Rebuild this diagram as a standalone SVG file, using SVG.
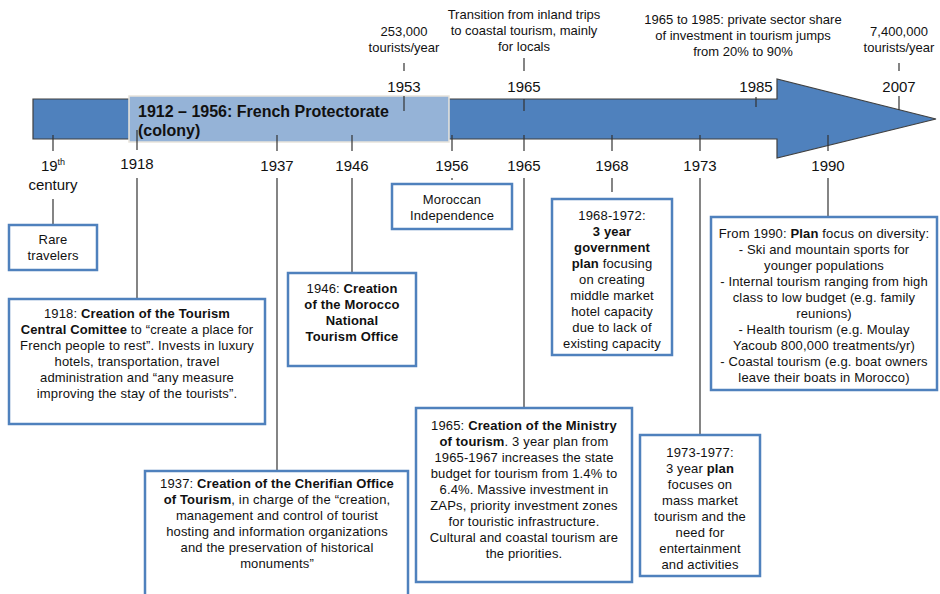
<svg xmlns="http://www.w3.org/2000/svg" width="940" height="594" viewBox="0 0 940 594">
<style>
.bx{fill:#fff;stroke:#4F81BD;stroke-width:2.5}
.ln{stroke:#333;stroke-width:1.2;fill:none}
.t{font-family:"Liberation Sans",Arial,sans-serif;font-size:13px;letter-spacing:0.15px;fill:#111;text-anchor:middle}
.y{font-family:"Liberation Sans",Arial,sans-serif;font-size:15px;fill:#111;text-anchor:middle}
.tp{font-family:"Liberation Sans",Arial,sans-serif;font-size:13px;fill:#111;text-anchor:middle}
.b{font-weight:bold}
</style>
<rect width="940" height="594" fill="#fff"/>
<g id="timeline">
<path d="M33,99 H777 V79 L936,119 L777,158 V139 H33 Z" fill="#4F81BD" stroke="#404040" stroke-width="1.2"/>
<rect x="129" y="96" width="320" height="46" fill="#95B3D7" stroke="#E8E4DC" stroke-width="1.5"/>
<text font-family="Liberation Sans,Arial,sans-serif" font-size="16px" font-weight="bold" fill="#111"><tspan x="138" y="117">1912 – 1956: French Protectorate</tspan><tspan x="138" y="136">(colony)</tspan></text>
</g>
<g id="connectors">
<line class="ln" x1="53" y1="135" x2="53" y2="151"/>
<line class="ln" x1="137" y1="130" x2="137" y2="150"/>
<line class="ln" x1="277" y1="135" x2="277" y2="151"/>
<line class="ln" x1="352" y1="135" x2="352" y2="151"/>
<line class="ln" x1="452" y1="135" x2="452" y2="151"/>
<line class="ln" x1="524" y1="135" x2="524" y2="151"/>
<line class="ln" x1="612" y1="135" x2="612" y2="151"/>
<line class="ln" x1="700" y1="135" x2="700" y2="151"/>
<line class="ln" x1="828" y1="135" x2="828" y2="151"/>
<line class="ln" x1="404" y1="63" x2="404" y2="71"/>
<line class="ln" x1="404" y1="96" x2="404" y2="111"/>
<line class="ln" x1="524" y1="58" x2="524" y2="71"/>
<line class="ln" x1="524" y1="99" x2="524" y2="111"/>
<line class="ln" x1="756" y1="97" x2="756" y2="107"/>
<line class="ln" x1="899" y1="63" x2="899" y2="71"/>
<line class="ln" x1="899" y1="96" x2="899" y2="110"/>
<line class="ln" x1="53" y1="199" x2="53" y2="224"/>
<line class="ln" x1="137" y1="178" x2="137" y2="298"/>
<line class="ln" x1="277" y1="178" x2="277" y2="470"/>
<line class="ln" x1="352" y1="178" x2="352" y2="272"/>
<line class="ln" x1="452" y1="178" x2="452" y2="180"/>
<line class="ln" x1="524" y1="178" x2="524" y2="407"/>
<line class="ln" x1="612" y1="178" x2="612" y2="192"/>
<line class="ln" x1="700" y1="178" x2="700" y2="434"/>
<line class="ln" x1="828" y1="178" x2="828" y2="216"/>
</g>
<g id="labels">
<text class="y" x="53" y="171">19<tspan font-size="9px" dy="-6">th</tspan></text>
<text class="y" x="53" y="190">century</text>
<text class="y" x="137" y="169">1918</text>
<text class="y" x="277" y="171">1937</text>
<text class="y" x="352" y="171">1946</text>
<text class="y" x="452" y="171">1956</text>
<text class="y" x="524" y="171">1965</text>
<text class="y" x="612" y="171">1968</text>
<text class="y" x="700" y="171">1973</text>
<text class="y" x="828" y="171">1990</text>
<text class="y" x="404" y="92">1953</text>
<text class="y" x="524" y="92">1965</text>
<text class="y" x="756" y="92">1985</text>
<text class="y" x="899" y="92">2007</text>
<text class="tp" x="404" y="36">253,000</text>
<text class="tp" x="404" y="52">tourists/year</text>
<text class="tp" x="524" y="19">Transition from inland trips</text>
<text class="tp" x="524" y="35">to coastal tourism, mainly</text>
<text class="tp" x="524" y="51">for locals</text>
<text class="tp" x="743" y="24">1965 to 1985: private sector share</text>
<text class="tp" x="743" y="40">of investment in tourism jumps</text>
<text class="tp" x="743" y="56">from 20% to 90%</text>
<text class="tp" x="899" y="36">7,400,000</text>
<text class="tp" x="899" y="52">tourists/year</text>
</g>
<g id="n-rare">
<rect class="bx" x="9" y="225" width="88" height="45"/>
<text class="t" x="53" y="244">Rare</text>
<text class="t" x="53" y="260">travelers</text>
</g>
<g id="n-1918">
<rect class="bx" x="9" y="299" width="256" height="125"/>
<text class="t"><tspan x="137" y="318">1918: <tspan class="b">Creation of the Tourism</tspan></tspan><tspan x="137" y="334"><tspan class="b">Central Comittee</tspan> to “create a place for</tspan><tspan x="137" y="350">French people to rest”. Invests in luxury</tspan><tspan x="137" y="366">hotels, transportation, travel</tspan><tspan x="137" y="382">administration and “any measure</tspan><tspan x="137" y="398">improving the stay of the tourists”.</tspan></text>
</g>
<g id="n-1937">
<rect class="bx" x="145" y="471" width="263" height="130"/>
<text class="t"><tspan x="277" y="488">1937: <tspan class="b">Creation of the Cherifian Office</tspan></tspan><tspan x="277" y="504"><tspan class="b">of Tourism</tspan>, in charge of the “creation,</tspan><tspan x="277" y="520">management and control of tourist</tspan><tspan x="277" y="536">hosting and information organizations</tspan><tspan x="277" y="552">and the preservation of historical</tspan><tspan x="277" y="568">monuments”</tspan></text>
</g>
<g id="n-1946">
<rect class="bx" x="288" y="273" width="128" height="93"/>
<text class="t"><tspan x="352" y="293">1946: <tspan class="b">Creation</tspan></tspan><tspan class="b" x="352" y="309">of the Morocco</tspan><tspan class="b" x="352" y="325">National</tspan><tspan class="b" x="352" y="341">Tourism Office</tspan></text>
</g>
<g id="n-1956">
<rect class="bx" x="392" y="184" width="120" height="45"/>
<text class="t" x="452" y="204">Moroccan</text>
<text class="t" x="452" y="220">Independence</text>
</g>
<g id="n-1965">
<rect class="bx" x="416" y="408" width="216" height="174"/>
<text class="t"><tspan x="524" y="430">1965: <tspan class="b">Creation of the Ministry</tspan></tspan><tspan x="524" y="446"><tspan class="b">of tourism</tspan>. 3 year plan from</tspan><tspan x="524" y="462">1965-1967 increases the state</tspan><tspan x="524" y="478">budget for tourism from 1.4% to</tspan><tspan x="524" y="494">6.4%. Massive investment in</tspan><tspan x="524" y="510">ZAPs, priority investment zones</tspan><tspan x="524" y="526">for touristic infrastructure.</tspan><tspan x="524" y="542">Cultural and coastal tourism are</tspan><tspan x="524" y="558">the priorities.</tspan></text>
</g>
<g id="n-1968">
<rect class="bx" x="552" y="199" width="120" height="156"/>
<text class="t"><tspan x="612" y="220">1968-1972:</tspan><tspan class="b" x="612" y="236">3 year</tspan><tspan class="b" x="612" y="252">government</tspan><tspan x="612" y="268"><tspan class="b">plan</tspan> focusing</tspan><tspan x="612" y="284">on creating</tspan><tspan x="612" y="300">middle market</tspan><tspan x="612" y="316">hotel capacity</tspan><tspan x="612" y="332">due to lack of</tspan><tspan x="612" y="348">existing capacity</tspan></text>
</g>
<g id="n-1973">
<rect class="bx" x="640" y="435" width="120" height="141"/>
<text class="t"><tspan x="700" y="457">1973-1977:</tspan><tspan x="700" y="473">3 year <tspan class="b">plan</tspan></tspan><tspan x="700" y="489">focuses on</tspan><tspan x="700" y="505">mass market</tspan><tspan x="700" y="521">tourism and the</tspan><tspan x="700" y="537">need for</tspan><tspan x="700" y="553">entertainment</tspan><tspan x="700" y="569">and activities</tspan></text>
</g>
<g id="n-1990">
<rect class="bx" x="711" y="217" width="226" height="173"/>
<text class="t"><tspan x="824" y="238">From 1990: <tspan class="b">Plan</tspan> focus on diversity:</tspan><tspan x="824" y="254">- Ski and mountain sports for</tspan><tspan x="824" y="270">younger populations</tspan><tspan x="824" y="286">- Internal tourism ranging from high</tspan><tspan x="824" y="302">class to low budget (e.g. family</tspan><tspan x="824" y="318">reunions)</tspan><tspan x="824" y="334">- Health tourism (e.g. Moulay</tspan><tspan x="824" y="350">Yacoub 800,000 treatments/yr)</tspan><tspan x="824" y="366">- Coastal tourism (e.g. boat owners</tspan><tspan x="824" y="382">leave their boats in Morocco)</tspan></text>
</g>
</svg>
